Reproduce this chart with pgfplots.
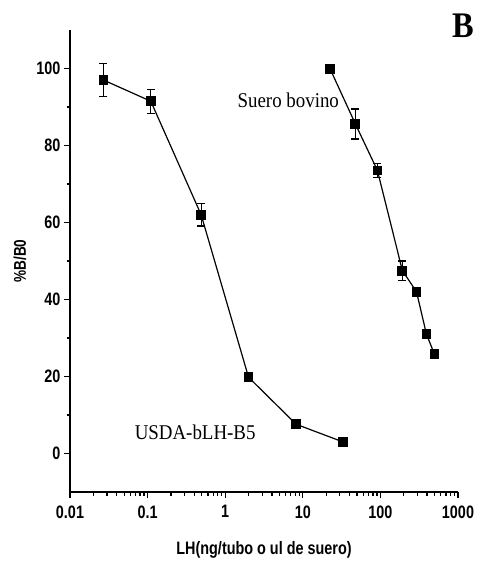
\documentclass[border=0pt]{standalone}
\usepackage{pgfplots}
\pgfplotsset{compat=1.18}
\usepackage{fontspec}
\setmainfont{Liberation Serif}
\newfontfamily\ticksans[FakeStretch=0.8]{Liberation Sans}
\newfontfamily\annot[FakeStretch=0.9]{Liberation Serif}
\begin{document}
\begin{tikzpicture}
\begin{axis}[
  scale only axis, width=388pt, height=462pt,
  xmode=log, xmin=0.01, xmax=1000, ymin=-10, ymax=110,
  axis lines=left, axis line style={-, line width=1.6pt},
  xtick={0.01,0.1,1,10,100,1000},
  xticklabels={0.01,0.1,1,10,100,1000},
  ytick={0,20,40,60,80,100},
  yticklabels={0,20,40,60,80,100},
  minor y tick num=1,
  tick align=outside, major tick length=6pt, minor tick length=3.5pt,
  tick style={line width=1.3pt, black},
  ticklabel style={font=\ticksans\bfseries\fontsize{18}{18}\selectfont},
  xticklabel style={yshift=-4pt},
  xlabel={LH(ng/tubo o ul de suero)},
  ylabel={\%B/B0},
  every axis x label/.style={at={(axis description cs:0.5,0)}, anchor=center, yshift=-58pt, font=\ticksans\bfseries\fontsize{18}{18}\selectfont},
  every axis y label/.style={at={(axis description cs:0,0.5)}, rotate=90, anchor=center, yshift=50pt, font=\ticksans\bfseries\fontsize{17}{17}\selectfont},
  clip=false,
]
\addplot[black, line width=1.2pt, mark=square*, mark size=4.3pt,
  error bars/.cd, y dir=both, y explicit,
  error bar style={line width=1.2pt, black},
  error mark options={rotate=90, mark size=4pt, line width=1.2pt}]
coordinates {
(0.027,97) +- (0,4.2)
(0.11,91.5) +- (0,3.1)
(0.49,62) +- (0,2.9)
(2.0,19.8) +- (0,0)
(8.2,7.6) +- (0,0)
(33,3) +- (0,0)
};
\addplot[black, line width=1.2pt, mark=square*, mark size=4.3pt,
  error bars/.cd, y dir=both, y explicit,
  error bar style={line width=1.2pt, black},
  error mark options={rotate=90, mark size=4pt, line width=1.2pt}]
coordinates {
(22.6,99.8) +- (0,0)
(47.6,85.6) +- (0,3.9)
(91.6,73.5) +- (0,1.8)
(192,47.5) +- (0,2.5)
(292,42) +- (0,1)
(392,31) +- (0,0)
(497,25.8) +- (0,0)
};
\node[font=\annot\fontsize{21}{21}\selectfont] at (axis cs:0.41,5.5) {USDA-bLH-B5};
\node[font=\annot\fontsize{21}{21}\selectfont] at (axis cs:6.5,91.7) {Suero bovino};
\end{axis}
\node[font=\annot\bfseries\fontsize{36}{36}\selectfont] at (393pt,466pt) {B};
\pgfresetboundingbox
\path (-70pt,-83pt) rectangle (416pt,492pt);
\end{tikzpicture}
\end{document}
